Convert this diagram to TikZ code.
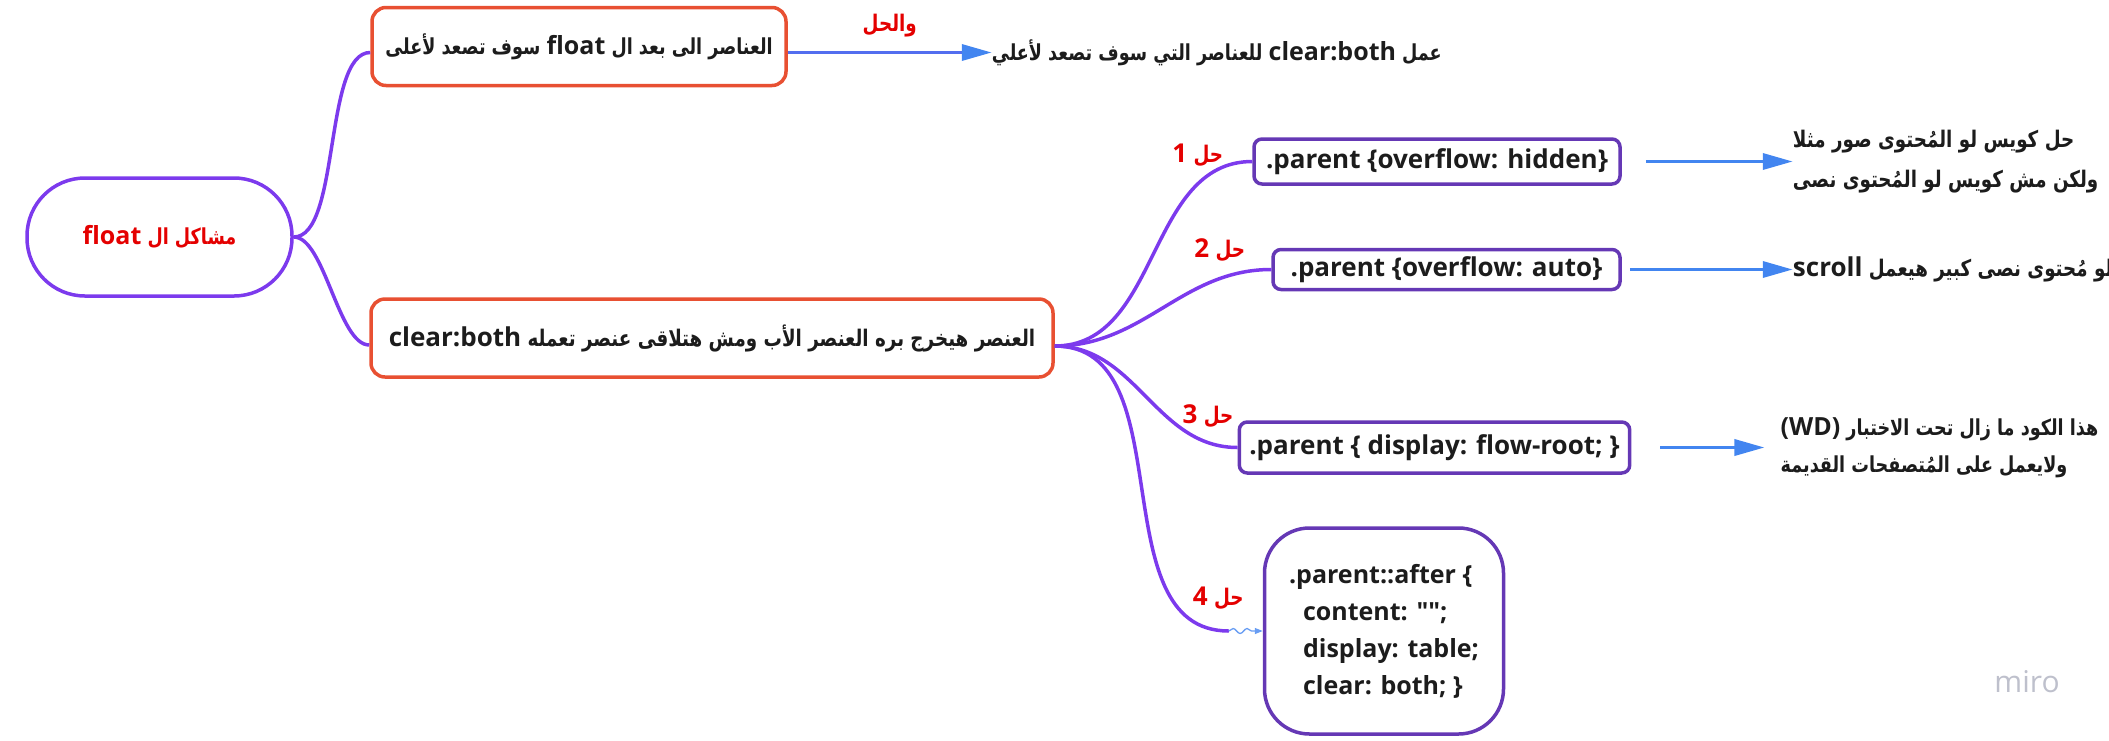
\documentclass[tikz,border=0pt]{standalone}
\usepackage{fontspec}
\setmainfont[Ligatures=TeXOff]{Open Sans}
\newfontfamily\arabicfont[Script=Arabic, Scale=0.88, FakeStretch=0.8]{DejaVu Sans}
\TeXXeTstate=1
\usepackage{tikz}
\usetikzlibrary{arrows.meta,decorations.pathmorphing,positioning}

\definecolor{rootviolet}{RGB}{124,58,237}
\definecolor{branchviolet}{RGB}{124,58,237}
\definecolor{fixpurple}{RGB}{101,56,181}
\definecolor{probred}{RGB}{232,80,50}
\definecolor{labelred}{RGB}{228,0,0}
\definecolor{arrowblue}{RGB}{66,133,240}
\definecolor{ink}{RGB}{28,28,28}
\definecolor{mirogray}{RGB}{190,192,204}

% arabic text, with latin words inside
\newcommand{\artxt}[1]{{\arabicfont\bfseries\beginR #1\endR}}
\newcommand{\lattxt}[1]{{\normalfont\bfseries #1}}

\begin{document}
\begin{tikzpicture}
[x=1pt, y=-1pt, text=ink, font=\fontsize{25}{30}\selectfont,
% STYLES
% The topic style is used for the root of the map
topic/.style={rectangle, draw=rootviolet, line width=3.5pt, rounded corners=58pt, minimum width=265pt, minimum height=118pt, text=labelred},
% The problem style is used for the two problems
problem/.style={rectangle, draw=probred, line width=3.5pt, rounded corners=14pt, minimum height=78pt},
% The fix style is used for the css solutions
fix/.style={rectangle, draw=fixpurple, line width=3.5pt, rounded corners=8pt, inner xsep=10pt, font=\bfseries\fontsize{26}{32}\selectfont},
% numbers of the solutions
fixnum/.style={text=labelred, inner sep=0pt, font=\fontsize{26}{30}\selectfont},
% The comment style is used for the text after the arrows
comment/.style={inner sep=0pt, align=left, font=\fontsize{26}{40}\selectfont},
branch/.style={draw=branchviolet, line width=3.5pt},
result/.style={draw=arrowblue, line width=3.5pt, -{Triangle[length=30pt,width=16pt]}}]

\useasboundingbox (0,0) rectangle (2109,740);

% Draw root and problems
\node [topic] (root) at (159.5,237) {\artxt{مشاكل ال \lattxt{float}}};
\node [problem, minimum width=414pt] (probA) at (579,46.5) {\artxt{العناصر الى بعد ال \lattxt{float} سوف تصعد لأعلى}};
\node [problem, minimum width=682pt, font=\fontsize{26}{30}\selectfont] (probB) at (712,338) {\artxt{العنصر هيخرج بره العنصر الأب ومش هتلاقى عنصر تعمله \lattxt{clear:both}}};

% solution of the first problem
\node [comment, font=\fontsize{25}{30}\selectfont, right=204pt of probA, yshift=-6pt] (sol) {\artxt{عمل \lattxt{clear:both} للعناصر التي سوف تصعد لأعلي}};

% Draw fixes
\node [fix, minimum width=366pt, minimum height=45pt] (fix1) at (1437,161.5) {.parent \{overflow: hidden\}};
\node [fix, minimum width=347pt, minimum height=40pt] (fix2) at (1446.5,269.5) {.parent \{overflow: auto\}};
\node [fix, minimum width=389pt, minimum height=51pt] (fix3) at (1434.5,447.5) {.parent \{ display: flow-root; \}};
\node [fix, rounded corners=45pt, minimum width=239pt, minimum height=206pt, align=left, font=\bfseries\fontsize{25}{37}\selectfont] (fix4) at (1384,631) {.parent::after \{\\\hspace*{14pt}content: "";\\\hspace*{14pt}display: table;\\\hspace*{14pt}clear: both; \}};

\coordinate (fork) at ([yshift=-8pt]probB.east);
\coordinate [left=34pt of fix4] (hook4);

% numbers
\node [fixnum, left=29pt of fix1.west, yshift=6pt] (num1) {\artxt{حل \lattxt{1}}};
\node [fixnum, left=26pt of fix2.west, yshift=19pt] (num2) {\artxt{حل \lattxt{2}}};
\node [fixnum, left=4pt of fix3.west, yshift=31pt] (num3) {\artxt{حل \lattxt{3}}};
\node [fixnum, left=19pt of fix4.west, yshift=33pt] (num4) {\artxt{حل \lattxt{4}}};

% comments
\node [comment, right=171pt of fix1] (note1) {\artxt{حل كويس لو المُحتوى صور مثلا}\\\artxt{ولكن مش كويس لو المُحتوى نصى}};
\node [comment, right=171pt of fix2] (note2) {\artxt{لو مُحتوى نصى كبير  هيعمل \lattxt{scroll}}};
\node [comment, font=\fontsize{25}{37}\selectfont, right=149pt of fix3] (note3) {\artxt{هذا الكود ما زال تحت الاختبار \lattxt{\beginL(WD)\endL}}\\\artxt{ولايعمل على المُتصفحات القديمة}};

\node [text=mirogray, font=\fontsize{30}{30}\selectfont] (miro) at (2027,682) {miro};

% Draw the branches
\path[branch]
(root.east) edge[out=0, in=180, looseness=0.6] ([yshift=-6pt]probA.west)
(root.east) edge[out=0, in=180, looseness=0.6] ([yshift=-7pt]probB.west)
(fork) edge[out=0, in=180] (fix1.west)
(fork) edge[out=0, in=180] (fix2.west)
(fork) edge[out=0, in=180] (fix3.west)
(fork) edge[out=0, in=180] (hook4);

% Draw the arrows
\path
([yshift=-6pt]probA.east) edge[draw=arrowblue!70!branchviolet, line width=3.5pt, -{Triangle[length=30pt,width=16pt,color=arrowblue]}] node[fixnum, above=14pt] (then) {\artxt{والحل}} (sol.west)
([xshift=24pt]fix1.east) edge[result] (note1.west)
([xshift=8pt]fix2.east) edge[result] (note2.west)
([xshift=29pt]fix3.east) edge[result, shorten >=16pt] (note3.west);
\draw[arrowblue!80, line width=1.3pt, -{Triangle[length=8pt,width=6pt]}, decorate, decoration={snake, amplitude=2.5pt, segment length=14pt, post length=10pt}] (hook4) -- (fix4.west);

\end{tikzpicture}
\end{document}
